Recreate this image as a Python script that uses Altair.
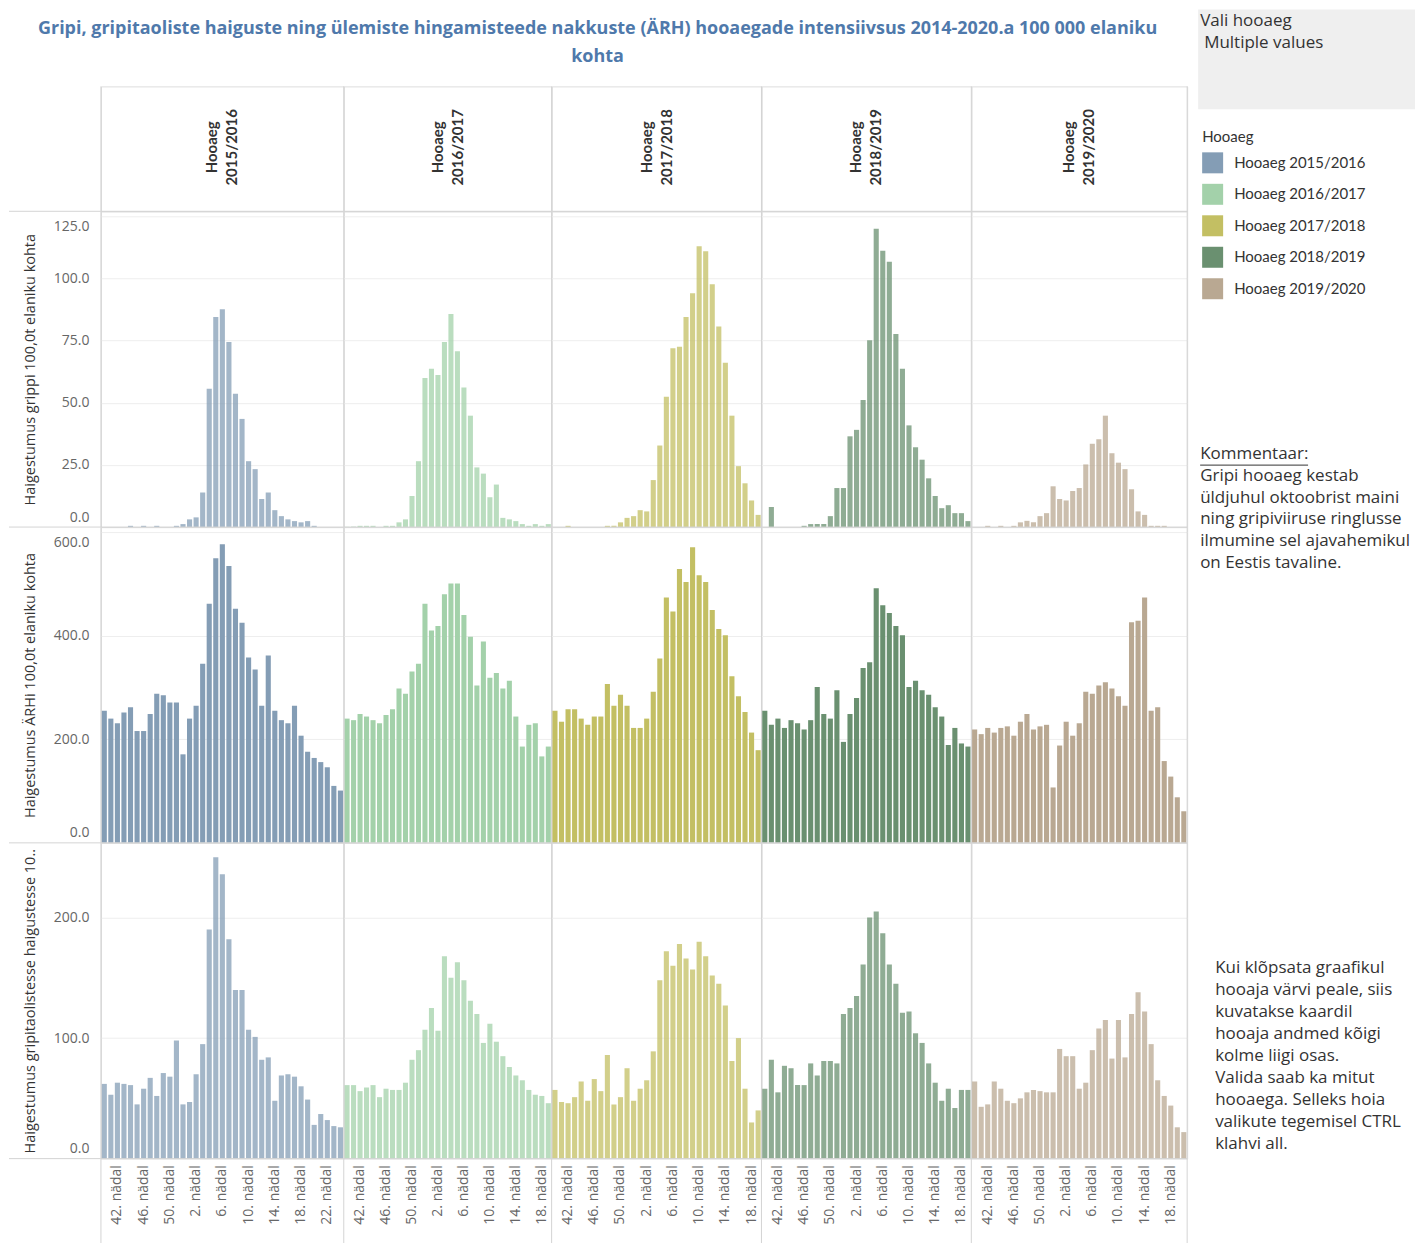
import altair as alt
import pandas as pd

FONT = "Open Sans"
LEGEND_FONT = "Lato"
TITLE_LINES = [
    "Gripi, gripitaoliste haiguste ning ülemiste hingamisteede nakkuste (ÄRH) hooaegade intensiivsus 2014-2020.a 100 000 elaniku",
    "kohta",
]

SEASONS = ["Hooaeg 2015/2016", "Hooaeg 2016/2017", "Hooaeg 2017/2018", "Hooaeg 2018/2019", "Hooaeg 2019/2020"]
HEADERS = ["Hooaeg\n2015/2016", "Hooaeg\n2016/2017", "Hooaeg\n2017/2018", "Hooaeg\n2018/2019", "Hooaeg\n2019/2020"]
COLORS = ["#849db5", "#a3d1aa", "#c3bf63", "#6a9070", "#b9a892"]
AUTUMN_WEEKS = list(range(40, 53))
SPRING_LAST_WEEK = [24, 19, 19, 19, 20]

Y_TITLES = [
    "Haigestumus grippi 100,0t elaniku kohta",
    "Haigestumus ÄRHi 100,0t elaniku kohta",
    "Haigestumus gripitaolistesse haigustesse 10..",
]
Y_TICKS = [[0, 25, 50, 75, 100, 125], [0, 200, 400, 600], [0, 100, 200]]
Y_MAX = [127, 610, 262]
ROW_OPACITY = [0.75, 1.0, 0.75]

# --- gripp (influenza) per 100 000 ---
gripp_1516 = [0, 0, 0, 0, 0.5, 0, 0.5, 0, 0.5, 0, 0, 0.5, 1.2, 3.1, 3.9, 13.9, 55.6, 84.5, 87.6, 74.4,
              53.6, 43.5, 26.5, 23.3, 11.3, 13.9, 6.8, 4.4, 3.1, 2.4, 1.9, 2.4, 0.5, 0, 0, 0, 0]
gripp_1617 = [0.1, 0.2, 0.5, 0.5, 0.5, 0, 0.5, 0.5, 1.9, 3.1, 12.5, 26.5, 60, 63.7, 61.2, 74.4, 85.7, 70.7,
              56.1, 44.8, 24, 21.5, 12, 17.1, 3.7, 3.1, 2.4, 1.2, 0.5, 1.2, 0.5, 1.2]
gripp_1718 = [0, 0, 0.5, 0, 0, 0, 0, 0, 0.5, 0.5, 1.9, 3.7, 4.4, 6.8, 6.3, 18.9, 32.8, 52.4, 71.9, 72.5,
              84.5, 94, 112.9, 110.9, 97.7, 80.7, 66.1, 44.8, 24.5, 17.6, 10.7, 4.9]
gripp_1819 = [0, 8.1, 0, 0, 0, 0, 0.5, 1.2, 1.2, 1.2, 4.4, 15.7, 15.7, 36.5, 39.1, 51.1, 75.1, 120, 111.1,
              106.7, 77.6, 63.7, 40.9, 32.1, 27.1, 19.6, 12.5, 7.6, 8.8, 5.6, 5.6, 2.4]
gripp_1920 = [0, 0, 0.5, 0, 0.5, 0, 0.5, 1.9, 2.5, 1.9, 4.4, 5.6, 16.4, 11.3, 10.7, 14.5, 15.7, 25.2, 33.5,
              35.3, 44.8, 29.7, 25.9, 23.3, 15.2, 6.3, 4.9, 0.5, 0.5, 0.5, 0, 0, 0]

# --- ÄRH per 100 000 ---
arh_1516 = [255, 240, 231, 252, 262, 216, 216, 249, 288, 285, 271, 271, 171, 240, 265, 346, 462, 550, 577, 535,
            452, 425, 358, 335, 265, 362, 255, 237, 231, 265, 207, 176, 164, 156, 146, 110, 101]
arh_1617 = [240, 237, 249, 244, 237, 231, 247, 258, 298, 288, 331, 346, 462, 410, 419, 480, 501, 501, 440, 398,
            304, 389, 319, 328, 298, 313, 244, 186, 228, 231, 167, 186]
arh_1718 = [255, 234, 258, 258, 240, 228, 244, 244, 307, 265, 286, 265, 222, 222, 240, 292, 356, 474, 447, 529,
            504, 571, 517, 504, 450, 413, 401, 322, 283, 253, 213, 179]
arh_1819 = [255, 228, 240, 222, 237, 231, 219, 237, 301, 249, 240, 295, 195, 249, 280, 338, 349, 492, 459, 444,
            419, 401, 301, 313, 295, 286, 262, 244, 189, 222, 192, 186]
arh_1920 = [219, 210, 222, 213, 222, 225, 207, 234, 249, 219, 225, 228, 107, 188, 234, 207, 231, 292, 288, 304,
            310, 298, 283, 265, 426, 429, 474, 255, 262, 158, 128, 88, 61]

# --- gripitaolised haigused per 100 000 ---
gl_1516 = [62, 53, 63, 62, 61, 45, 58, 67, 52, 71, 68, 98, 45, 47, 70, 95, 190, 250, 236, 182,
           140, 140, 107, 101, 82, 84, 48, 69, 70, 68, 60, 49, 28, 37, 32, 27, 26]
gl_1617 = [61, 61, 56, 59, 61, 51, 58, 57, 57, 63, 82, 90, 107, 125, 106, 168, 150, 163, 148, 131,
           120, 96, 112, 97, 85, 76, 69, 65, 57, 53, 52, 46]
gl_1718 = [57, 47, 46, 51, 64, 48, 66, 56, 86, 45, 51, 75, 48, 58, 65, 89, 148, 172, 160, 178,
           166, 157, 180, 168, 152, 145, 127, 81, 100, 58, 30, 40]
gl_1819 = [58, 82, 55, 77, 75, 61, 61, 79, 69, 81, 81, 79, 120, 125, 135, 161, 200, 205, 187, 161,
           145, 121, 122, 104, 96, 79, 63, 48, 58, 42, 57, 57]
gl_1920 = [64, 43, 45, 64, 58, 48, 46, 50, 55, 57, 56, 55, 55, 91, 85, 85, 58, 63, 90, 108,
           115, 83, 115, 84, 120, 138, 122, 95, 65, 52, 44, 26, 22]

GRIPP = [gripp_1516, gripp_1617, gripp_1718, gripp_1819, gripp_1920]
ARH = [arh_1516, arh_1617, arh_1718, arh_1819, arh_1920]
GL = [gl_1516, gl_1617, gl_1718, gl_1819, gl_1920]
MEASURES = [GRIPP, ARH, GL]

COMMENT_TEXT = "Kommentaar:\nGripi hooaeg kestab\nüldjuhul oktoobrist maini\nning gripiviiruse ringlusse\nilmumine sel ajavahemikul\non Eestis tavaline."
HELP_TEXT = ("Kui klõpsata graafikul\nhooaja värvi peale, siis\nkuvatakse kaardil\nhooaja andmed kõigi\n"
             "kolme liigi osas.\nValida saab ka mitut\nhooaega. Selleks hoia\nvalikute tegemisel CTRL\nklahvi all.")

# ---- layout (pixels) ----
PANEL_W = [243, 208, 210, 210, 216]
HEAD_H = 125
ROW_H = 316
LEFT = 92
XLAB_H = 85
BORDER = "#d4d4d4"
ONE = pd.DataFrame({"k": [0]})

LEGEND = alt.Legend(
    title="Hooaeg", orient="none", legendX=1102, legendY=44, direction="vertical",
    titleFontSize=15, titleFontWeight="normal", titleColor="#333333", titleFont=LEGEND_FONT, titlePadding=7,
    labelFontSize=15, labelColor="#333333", labelFont=LEGEND_FONT, labelOffset=11,
    symbolType="square", symbolSize=441, symbolStrokeWidth=0, symbolOpacity=1, rowPadding=10.5,
)


def week_labels(si):
    weeks = AUTUMN_WEEKS + list(range(1, SPRING_LAST_WEEK[si] + 1))
    return [f"{w}. nädal" for w in weeks]


def rule(x1, y1, x2, y2, color=BORDER):
    return alt.Chart(ONE).mark_rule(color=color, strokeWidth=1).encode(
        x=alt.value(x1), x2=alt.value(x2), y=alt.value(y1), y2=alt.value(y2)
    )


def text_block(txt, x, y, size=16, lh=21.8, color="#333333", baseline="top", align="left",
               weight="normal", font=FONT):
    return alt.Chart(ONE).mark_text(
        text=txt, lineBreak="\n", align=align, baseline=baseline, fontSize=size,
        lineHeight=lh, font=font, color=color, fontWeight=weight,
    ).encode(x=alt.value(x), y=alt.value(y))


def header(si):
    w = PANEL_W[si]
    df = pd.DataFrame({"label": [HEADERS[si]]})
    txt = alt.Chart(df).mark_text(
        angle=270, align="center", baseline="middle", lineBreak="\n", fontSize=15,
        fontWeight="bold", color="#333333", lineHeight=20, font=LEGEND_FONT,
    ).encode(text="label:N", x=alt.value(w / 2 - 10), y=alt.value(61))
    layers = [txt, rule(0, 0, 0, HEAD_H)]
    if si == 0:
        layers.append(text_block(TITLE_LINES[0], 497, -57, size=18, baseline="middle", align="center",
                                 weight="bold", color="#4f79ab"))
        layers.append(text_block(TITLE_LINES[1], 497, -29, size=18, baseline="middle", align="center",
                                 weight="bold", color="#4f79ab"))
    if si == 4:
        layers.append(rule(w, 0, w, HEAD_H))
        box = alt.Chart(ONE).mark_rect(color="#efefef").encode(
            x=alt.value(227), x2=alt.value(444), y=alt.value(-77), y2=alt.value(23)
        )
        layers.append(box)
        layers.append(text_block("Vali hooaeg", 229, -65, size=17, baseline="middle"))
        layers.append(text_block("Multiple values", 233, -43, size=17, baseline="middle"))
    return alt.layer(*layers).properties(width=w, height=HEAD_H)


def panel(si, mi):
    labels = week_labels(si)
    vals = MEASURES[mi][si]
    df = pd.DataFrame({"week": labels, "value": vals, "season": SEASONS[si]})
    w = PANEL_W[si]
    bottom = mi == 2
    if bottom:
        xaxis = alt.Axis(values=labels[2::4], labelAngle=270, labelFontSize=14, labelColor="#666666",
                         labelFont=FONT, labelPadding=6, ticks=False, domain=False, grid=False,
                         labelOverlap=False)
    else:
        xaxis = None
    if si == 0:
        yaxis = alt.Axis(values=Y_TICKS[mi], format=".1f", labelFontSize=14, labelColor="#666666",
                         labelFont=FONT, labelPadding=12, ticks=False, domain=False, grid=True,
                         gridColor="#eeeeee", labelFlush=6, labelFlushOffset=-3,
                         minExtent=50, maxExtent=50,
                         title=Y_TITLES[mi], titleFontSize=14.5, titleFontWeight="normal",
                         titleColor="#333333", titleFont=FONT, titlePadding=13)
    else:
        yaxis = alt.Axis(values=Y_TICKS[mi], labels=False, ticks=False, domain=False, grid=True,
                         gridColor="#eeeeee", title=None)
    bars = alt.Chart(df).mark_bar(opacity=ROW_OPACITY[mi]).encode(
        x=alt.X("week:N", sort=labels, title=None,
                scale=alt.Scale(paddingInner=0.22, paddingOuter=0.12), axis=xaxis),
        y=alt.Y("value:Q", scale=alt.Scale(domain=[0, Y_MAX[mi]], nice=False), axis=yaxis),
        color=alt.Color("season:N", scale=alt.Scale(domain=SEASONS, range=COLORS), legend=LEGEND),
    )
    layers = [bars, rule(0, 0, 0, ROW_H), rule(0, 0, w, 0)]
    if si == 0:
        layers.append(rule(-LEFT, 0, 0, 0))
    if si == 4:
        layers.append(rule(w, 0, w, ROW_H))
    if bottom:
        layers.append(rule(0, ROW_H, w, ROW_H))
        layers.append(rule(0, ROW_H, 0, ROW_H + XLAB_H))
        if si == 0:
            layers.append(rule(-LEFT, ROW_H, 0, ROW_H))
        if si == 4:
            layers.append(rule(w, ROW_H, w, ROW_H + XLAB_H))
    if si == 4 and mi == 0:
        layers.append(text_block(COMMENT_TEXT, 229, 235, size=17, lh=21.8))
        layers.append(rule(229, 254, 337, 254, color="#333333"))
    if si == 4 and mi == 2:
        layers.append(text_block(HELP_TEXT, 244, 117, size=17, lh=22.1))
    return alt.layer(*layers).properties(width=w, height=ROW_H)


cells = [header(si) for si in range(5)] + [panel(si, mi) for mi in range(3) for si in range(5)]

chart = alt.concat(*cells, columns=5, spacing=0, bounds="flush").resolve_scale(
    color="shared"
).properties(padding=0).configure_view(strokeWidth=0).configure(font=FONT)

chart.save("out.html", embed_options={"renderer": "svg", "actions": False})
